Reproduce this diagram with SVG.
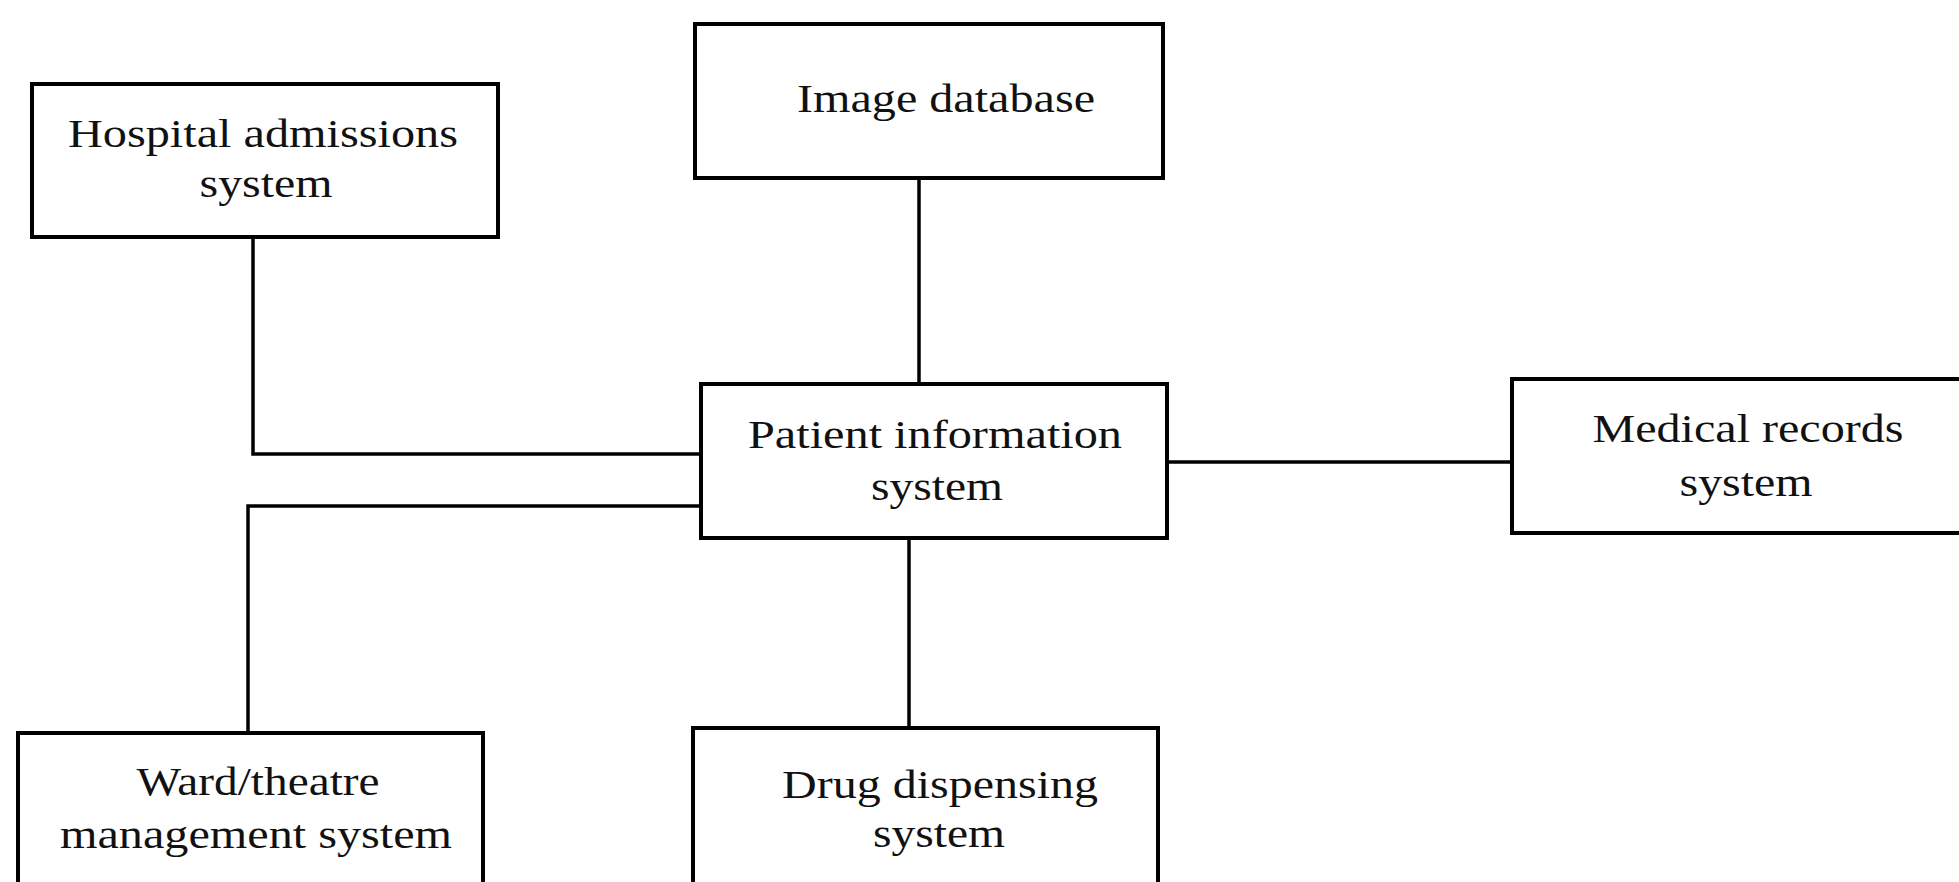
<svg xmlns="http://www.w3.org/2000/svg" width="1959" height="882" viewBox="0 0 1959 882">
<style>
.box{fill:#fff;stroke:#000;stroke-width:4}
.lbl{font-family:"Liberation Serif","Times New Roman",serif;font-size:40px;fill:#111;text-anchor:middle}
.con{fill:none;stroke:#000;stroke-width:3.5}
</style>
<rect width="1959" height="882" fill="#fff"/>
<g id="connectors">
<polyline class="con" points="253,237 253,454 701,454"/>
<polyline class="con" points="701,506 248,506 248,733"/>
<line class="con" x1="919" y1="178" x2="919" y2="384"/>
<line class="con" x1="1167" y1="462" x2="1512" y2="462"/>
<line class="con" x1="909" y1="538" x2="909" y2="728"/>
</g>
<g id="hospital">
<rect class="box" x="32" y="84" width="466" height="153"/>
<text class="lbl" x="263" y="147" textLength="390" lengthAdjust="spacingAndGlyphs">Hospital admissions</text>
<text class="lbl" x="266" y="197" textLength="133" lengthAdjust="spacingAndGlyphs">system</text>
</g>
<g id="image">
<rect class="box" x="695" y="24" width="468" height="154"/>
<text class="lbl" x="946" y="112" textLength="298" lengthAdjust="spacingAndGlyphs">Image database</text>
</g>
<g id="patient">
<rect class="box" x="701" y="384" width="466" height="154"/>
<text class="lbl" x="935" y="448" textLength="374" lengthAdjust="spacingAndGlyphs">Patient information</text>
<text class="lbl" x="937" y="500" textLength="132" lengthAdjust="spacingAndGlyphs">system</text>
</g>
<g id="medical">
<rect class="box" x="1512" y="379" width="452" height="154"/>
<text class="lbl" x="1748" y="442" textLength="311" lengthAdjust="spacingAndGlyphs">Medical records</text>
<text class="lbl" x="1746" y="496" textLength="133" lengthAdjust="spacingAndGlyphs">system</text>
</g>
<g id="ward">
<rect class="box" x="18" y="733" width="465" height="160"/>
<text class="lbl" x="258" y="795" textLength="243" lengthAdjust="spacingAndGlyphs">Ward/theatre</text>
<text class="lbl" x="256" y="848" textLength="392" lengthAdjust="spacingAndGlyphs">management system</text>
</g>
<g id="drug">
<rect class="box" x="693" y="728" width="465" height="165"/>
<text class="lbl" x="940" y="798" textLength="316" lengthAdjust="spacingAndGlyphs">Drug dispensing</text>
<text class="lbl" x="939" y="847" textLength="132" lengthAdjust="spacingAndGlyphs">system</text>
</g>
</svg>
